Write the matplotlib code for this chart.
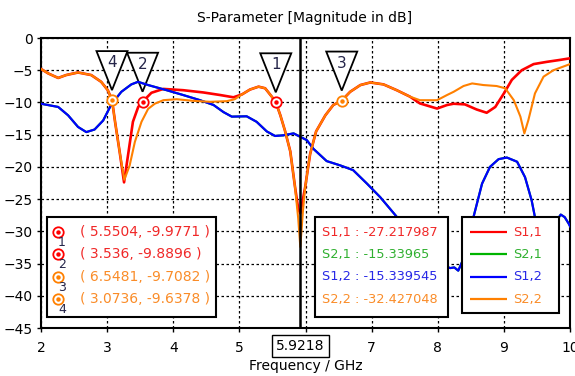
import matplotlib
matplotlib.use("Agg")
import matplotlib.pyplot as plt
from matplotlib.patches import Rectangle, Polygon
from matplotlib.transforms import ScaledTranslation

# ---- data -------------------------------------------------------------
s11_freq = [2.00, 2.11, 2.26, 2.38, 2.56, 2.76, 2.91, 3.01, 3.0736, 3.12, 3.19,
            3.256, 3.316, 3.39, 3.47, 3.536, 3.67, 3.85, 4.15, 4.455, 4.71, 4.91,
            5.04, 5.16, 5.29, 5.39, 5.49, 5.5504, 5.62, 5.69, 5.77, 5.84, 5.89,
            5.9218, 5.994, 6.07, 6.16, 6.30, 6.42, 6.5481, 6.675, 6.83, 6.98,
            7.18, 7.38, 7.58, 7.73, 7.99, 8.14, 8.24, 8.41, 8.59, 8.74, 8.87,
            9.00, 9.12, 9.27, 9.45, 9.65, 9.85, 10.0]
s11_db = [-4.8, -5.5, -6.2, -5.75, -5.35, -5.75, -6.8, -8.1, -9.6, -13.0, -17.7,
          -22.4, -18.2, -13.0, -10.7, -9.8896, -8.5, -7.9, -8.1, -8.45, -8.85, -9.2,
          -8.75, -8.0, -7.55, -7.8, -9.1, -9.9771, -12.0, -14.4, -17.6, -23.0, -26.5,
          -27.217987, -23.2, -18.0, -14.5, -12.0, -10.4, -9.71, -8.35, -7.3, -6.9,
          -7.2, -8.1, -9.1, -10.15, -10.95, -10.4, -10.2, -10.3, -11.1, -11.6, -10.7,
          -8.6, -6.5, -5.0, -4.05, -3.7, -3.4, -3.15]

s22_freq = [2.00, 2.11, 2.26, 2.38, 2.56, 2.76, 2.91, 3.01, 3.0736, 3.12, 3.19,
            3.26, 3.34, 3.42, 3.52, 3.62, 3.72, 3.85, 4.05, 4.30, 4.56, 4.81, 4.93,
            5.04, 5.16, 5.29, 5.39, 5.49, 5.5504, 5.62, 5.69, 5.77, 5.84, 5.89,
            5.9218, 5.96, 5.994, 6.07, 6.16, 6.30, 6.42, 6.5481, 6.675, 6.83, 6.98,
            7.18, 7.38, 7.58, 7.73, 7.99, 8.14, 8.24, 8.39, 8.52, 8.69, 8.89, 9.02,
            9.15, 9.25, 9.31, 9.37, 9.47, 9.60, 9.75, 10.0]
s22_db = [-4.8, -5.5, -6.2, -5.75, -5.35, -5.75, -6.8, -8.1, -9.6378, -13.0, -17.7,
          -22.0, -19.8, -16.1, -13.0, -11.0, -10.2, -9.65, -9.5, -9.75, -9.9, -9.8, -9.5,
          -8.75, -8.0, -7.55, -7.8, -9.1, -9.98, -12.0, -14.4, -17.6, -23.0, -28.0,
          -32.427048, -27.0, -23.2, -18.0, -14.5, -12.0, -10.4, -9.7082, -8.35, -7.3, -6.9,
          -7.2, -8.1, -9.1, -9.65, -9.65, -8.85, -8.35, -7.45, -7.05, -7.3, -7.45, -7.8,
          -9.65, -12.2, -14.8, -12.75, -8.6, -6.0, -5.0, -4.05]

s12_freq = [2.00, 2.26, 2.41, 2.56, 2.685, 2.81, 2.94, 3.064, 3.215, 3.366, 3.467,
            3.62, 3.9, 4.15, 4.405, 4.61, 4.76, 4.885, 5.11, 5.26, 5.415, 5.54,
            5.665, 5.82, 5.9218, 6.02, 6.12, 6.32, 6.52, 6.72, 6.93, 7.13, 7.36,
            7.6, 7.85, 8.05, 8.19, 8.25, 8.31, 8.4, 8.47, 8.54, 8.67, 8.79, 8.92,
            9.045, 9.2, 9.32, 9.42, 9.47, 9.58, 9.68, 9.73, 9.78, 9.86, 9.92, 9.98, 10.0]
s12_db = [-10.2, -10.7, -12.0, -13.8, -14.6, -14.2, -12.8, -10.3, -8.35, -7.2, -6.8,
          -7.3, -8.1, -8.85, -9.65, -10.4, -11.5, -12.2, -12.15, -13.0, -14.5, -15.2,
          -15.1, -14.8, -15.339545, -15.85, -17.2, -19.1, -19.75, -20.5, -22.6, -24.7, -27.5,
          -30.6, -33.5, -35.2, -35.7, -35.6, -36.1, -34.0, -31.0, -27.8, -22.6, -20.0, -18.8,
          -18.55, -19.2, -21.6, -25.2, -27.8, -32.0, -31.0, -29.9, -28.6, -27.4, -27.8, -28.8, -29.2]

# S2,1 follows S1,2 (reciprocal structure) and is hidden beneath it
s21_freq = s12_freq
s21_db = [-10.2, -10.7, -12.0, -13.8, -14.6, -14.2, -12.8, -10.3, -8.35, -7.2, -6.8,
          -7.3, -8.1, -8.85, -9.65, -10.4, -11.5, -12.2, -12.15, -13.0, -14.5, -15.2,
          -15.1, -14.8, -15.33965, -15.85, -17.2, -19.1, -19.75, -20.5, -22.6, -24.7, -27.5,
          -30.6, -33.5, -35.2, -35.7, -35.6, -36.1, -34.0, -31.0, -27.8, -22.6, -20.0, -18.8,
          -18.55, -19.2, -21.6, -25.2, -27.8, -32.0, -31.0, -29.9, -28.6, -27.4, -27.8, -28.8, -29.2]

marker_ids = ["1", "2", "3", "4"]
marker_freq = [5.5504, 3.536, 6.5481, 3.0736]
marker_db = [-9.9771, -9.8896, -9.7082, -9.6378]
marker_trace = ["S1,1", "S1,1", "S2,2", "S2,2"]

cursor_freq = 5.9218
cursor_names = ["S1,1", "S2,1", "S1,2", "S2,2"]
cursor_values = ["-27.217987", "-15.33965", "-15.339545", "-32.427048"]

x_ticks = [2, 3, 4, 5, 6, 7, 8, 9, 10]
# the "6" label sits under the cursor readout
x_tick_labels = ["2", "3", "4", "5", "", "7", "8", "9", "10"]
y_ticks = [-45, -40, -35, -30, -25, -20, -15, -10, -5, 0]

# ---- style --------------------------------------------------------------
line_colors = {"S1,1": "#ff0000", "S2,1": "#00b400", "S1,2": "#0000ff", "S2,2": "#ff8000"}
text_colors = {"S1,1": "#f02828", "S2,1": "#30b030", "S1,2": "#2828e6", "S2,2": "#fa8c28"}
label_dark = "#25254a"

plt.rcParams["font.family"] = ["DejaVu Sans"]

fig = plt.figure(figsize=(5.75, 3.76), dpi=100)
ax = fig.add_axes([41 / 575, 1 - 328 / 376, 529 / 575, 290 / 376])
ax.set_xlim(2, 10)
ax.set_ylim(-45, 0)
ax.set_xticks(x_ticks)
ax.set_xticklabels(x_tick_labels)
ax.set_yticks(y_ticks)
ax.tick_params(axis="both", direction="out", length=3, width=1, labelsize=10, colors="black")
ax.tick_params(axis="x", pad=6)
ax.tick_params(axis="y", pad=3)
ax.grid(True, color="black", linestyle=(0, (2, 2)), linewidth=0.9)
ax.set_axisbelow(True)
for sp in ax.spines.values():
    sp.set_linewidth(1.5)

fig.text(305 / 575, 1 - 18 / 376, "S-Parameter [Magnitude in dB]", ha="center", va="center", fontsize=10)
ax.set_xlabel("Frequency / GHz", fontsize=10)
ax.xaxis.set_label_coords(0.5, -(366 - 328) / 290)
ax.xaxis.label.set_va("center")

# ---- traces -------------------------------------------------------------
ax.plot(s11_freq, s11_db, color=line_colors["S1,1"], lw=1.9, zorder=3, solid_joinstyle="round")
ax.plot(s21_freq, s21_db, color=line_colors["S2,1"], lw=1.5, zorder=3.1)
ax.plot(s12_freq, s12_db, color=line_colors["S1,2"], lw=1.6, zorder=3.2, solid_joinstyle="round")
ax.plot(s22_freq, s22_db, color=line_colors["S2,2"], lw=1.5, zorder=3.3, solid_joinstyle="round")

# cursor
ax.axvline(cursor_freq, color="black", lw=1.8, zorder=4)
ax.text(cursor_freq, -(339 - 328) / 290, f"{cursor_freq:.4f}", transform=ax.get_xaxis_transform(),
        ha="center", va="top", fontsize=10, zorder=12, clip_on=False,
        bbox=dict(boxstyle="square,pad=0.3", fc="white", ec="black", lw=1.0))

# ---- markers with flag triangles ---------------------------------------
for mid, f, v, tr in zip(marker_ids, marker_freq, marker_db, marker_trace):
    col = line_colors[tr]
    off = fig.dpi_scale_trans + ScaledTranslation(f, v, ax.transData)
    tri = Polygon([(0, 0.10), (-0.155, 0.49), (0.155, 0.49)], closed=True,
                  transform=off, fc="white", ec="black", lw=1.3, zorder=2.5, clip_on=False)
    ax.add_patch(tri)
    ax.text(0, 0.375, mid, transform=off, ha="center", va="center", fontsize=11,
            color=label_dark, zorder=2.6)
    ax.plot([f], [v], marker="o", ms=7.5, mfc="white", mec=col, mew=1.3, zorder=5)
    ax.plot([f], [v], marker="o", ms=2.2, color=col, zorder=5.1)

# ---- marker readout box -------------------------------------------------
row_y = [0.331, 0.255, 0.177, 0.100]
ax.add_patch(Rectangle((0.0113, 0.038), 0.3197, 0.345, transform=ax.transAxes,
                       fc="white", ec="black", lw=1.5, zorder=8))
for y, mid, f, v, tr in zip(row_y, marker_ids, marker_freq, marker_db, marker_trace):
    col = line_colors[tr]
    ax.plot([0.0327], [y], transform=ax.transAxes, marker="o", ms=7.5, mfc="white",
            mec=col, mew=1.3, zorder=9, clip_on=False)
    ax.plot([0.0327], [y], transform=ax.transAxes, marker="o", ms=2.2, color=col,
            zorder=9.1, clip_on=False)
    ax.text(0.0395, y - 0.036, mid, transform=ax.transAxes, ha="center", va="center",
            fontsize=9, color=label_dark, zorder=9.2)
    ax.text(0.0737, y, f"( {f}, {v} )", transform=ax.transAxes, ha="left", va="center",
            fontsize=10, color=text_colors[tr], zorder=9.2)

# ---- cursor readout box -------------------------------------------------
ax.add_patch(Rectangle((0.518, 0.038), 0.251, 0.345, transform=ax.transAxes,
                       fc="white", ec="black", lw=1.5, zorder=8))
for y, name, val in zip(row_y, cursor_names, cursor_values):
    ax.text(0.531, y, f"{name} : {val}", transform=ax.transAxes, ha="left", va="center",
            fontsize=9.3, color=text_colors[name], zorder=9.2)

# ---- legend box ---------------------------------------------------------
ax.add_patch(Rectangle((0.795, 0.051), 0.185, 0.332, transform=ax.transAxes,
                       fc="white", ec="black", lw=1.5, zorder=8))
for y, name in zip(row_y, cursor_names):
    ax.plot([0.811, 0.881], [y, y], transform=ax.transAxes, color=line_colors[name],
            lw=1.6, zorder=9, solid_capstyle="butt")
    ax.text(0.892, y, name, transform=ax.transAxes, ha="left", va="center",
            fontsize=9.3, color=text_colors[name], zorder=9.2)

fig.savefig("out.png", dpi=100)
